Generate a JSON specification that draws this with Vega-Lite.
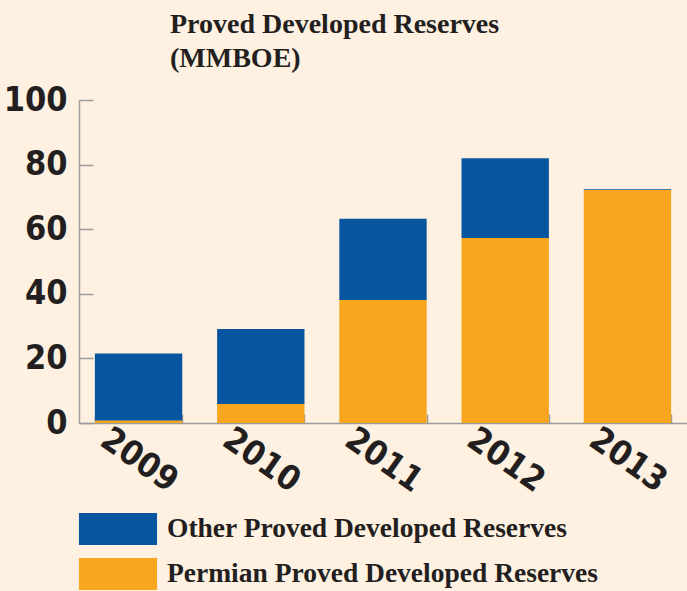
{
  "$schema": "https://vega.github.io/schema/vega-lite/v6.json",
  "width": 608,
  "height": 323,
  "autosize": {"type": "none"},
  "padding": {"left": 79, "top": 100, "right": 0, "bottom": 168},
  "background": "#FEF1E1",
  "title": {
    "text": ["Proved Developed Reserves", "(MMBOE)"],
    "anchor": "start",
    "frame": "group",
    "dx": 91,
    "offset": 10,
    "font": "Liberation Serif",
    "fontWeight": "bold",
    "fontSize": 28,
    "lineHeight": 34,
    "color": "#231F20"
  },
  "data": {
    "values": [
      {"year": "2009", "series": "Other Proved Developed Reserves", "value": 20.8},
      {"year": "2009", "series": "Permian Proved Developed Reserves", "value": 0.7},
      {"year": "2010", "series": "Other Proved Developed Reserves", "value": 23.2},
      {"year": "2010", "series": "Permian Proved Developed Reserves", "value": 5.9},
      {"year": "2011", "series": "Other Proved Developed Reserves", "value": 25.1},
      {"year": "2011", "series": "Permian Proved Developed Reserves", "value": 38.1},
      {"year": "2012", "series": "Other Proved Developed Reserves", "value": 24.7},
      {"year": "2012", "series": "Permian Proved Developed Reserves", "value": 57.3},
      {"year": "2013", "series": "Other Proved Developed Reserves", "value": 0.3},
      {"year": "2013", "series": "Permian Proved Developed Reserves", "value": 72.1}
    ]
  },
  "mark": {"type": "bar"},
  "encoding": {
    "x": {
      "field": "year",
      "type": "nominal",
      "title": null,
      "scale": {"paddingInner": 0.285, "paddingOuter": 0.13},
      "axis": {
        "domainColor": "#9C9C9C",
        "domainWidth": 1.5,
        "tickColor": "#9C9C9C",
        "tickWidth": 1.5,
        "tickSize": -9,
        "tickBand": "extent",
        "labelAngle": 35,
        "labelAlign": "center",
        "labelBaseline": "middle",
        "labelPadding": 46,
        "labelFont": "DejaVu Sans Condensed, sans-serif",
        "labelFontWeight": "bold",
        "labelFontSize": 34,
        "labelColor": "#231F20"
      }
    },
    "y": {
      "field": "value",
      "type": "quantitative",
      "aggregate": "sum",
      "title": null,
      "stack": "zero",
      "scale": {"domain": [0, 100]},
      "axis": {
        "values": [0, 20, 40, 60, 80, 100],
        "grid": false,
        "domainColor": "#9C9C9C",
        "domainWidth": 1.5,
        "tickColor": "#9C9C9C",
        "tickWidth": 1.5,
        "tickSize": -14,
        "labelPadding": 26,
        "labelFont": "DejaVu Sans Condensed, sans-serif",
        "labelFontWeight": "bold",
        "labelFontSize": 34,
        "labelColor": "#231F20"
      }
    },
    "color": {
      "field": "series",
      "type": "nominal",
      "scale": {
        "domain": ["Other Proved Developed Reserves", "Permian Proved Developed Reserves"],
        "range": ["#08559F", "#F8A51F"]
      },
      "legend": {
        "title": null,
        "orient": "none",
        "legendX": 23,
        "legendY": 413,
        "symbolType": "M-2.44,-1H2.44V1H-2.44Z",
        "symbolSize": 1024,
        "symbolStrokeWidth": 0,
        "symbolOpacity": 1,
        "labelFont": "Liberation Serif",
        "labelFontWeight": "bold",
        "labelFontSize": 27.5,
        "labelColor": "#231F20",
        "labelOffset": 33,
        "labelLimit": 600,
        "rowPadding": 13
      }
    },
    "order": {"field": "series", "sort": "descending"}
  },
  "config": {"view": {"stroke": null}}
}
